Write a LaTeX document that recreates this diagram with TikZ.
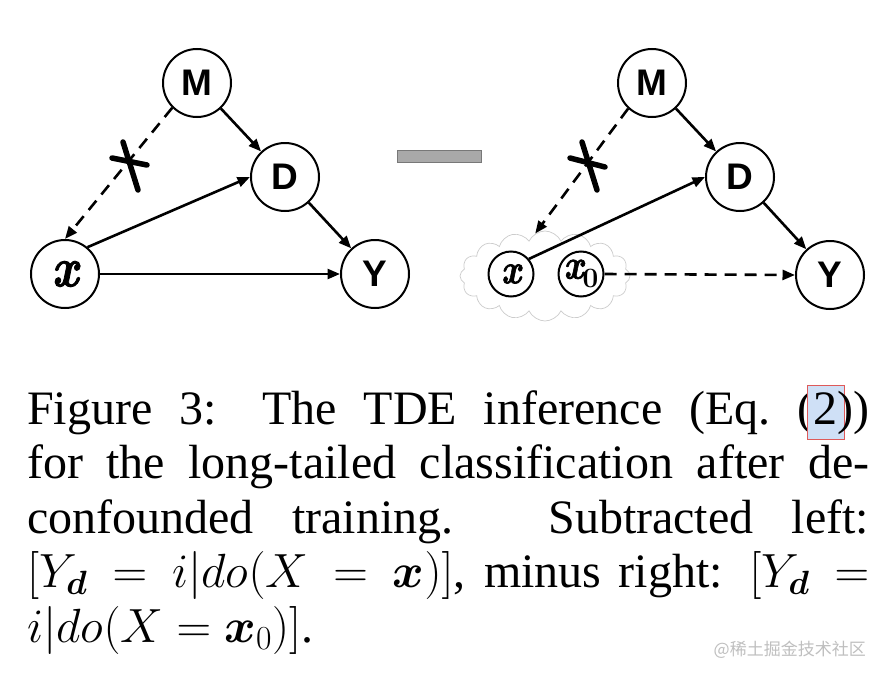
\RequirePackage{fix-cm}
\documentclass[tikz,border=0pt]{standalone}
\usepackage{amsmath,bm,graphicx}
\usepackage[no-math]{fontspec}
\setmainfont{Liberation Serif}
\newfontfamily\labfont{Liberation Sans}
\newfontfamily\lmfont{Latin Modern Roman}[BoldItalicFeatures={FakeBold=1.6}]
\newfontfamily\cjkfont{Noto Sans CJK SC}
\usetikzlibrary{arrows.meta,shapes.symbols}
\definecolor{hlblue}{RGB}{207,224,246}
\definecolor{hlred}{RGB}{222,90,90}
\definecolor{bargray}{RGB}{169,169,169}
\definecolor{baredge}{RGB}{120,120,120}
\newcommand\hlref[1]{\rlap{\hspace{-6pt}{\fboxsep=0pt\fboxrule=0.8pt\fcolorbox{hlred}{hlblue}{\rule[-15pt]{0pt}{53pt}\hspace{36pt}}}}#1}
\newcommand\bx{\scalebox{0.84}[1]{\lmfont\bfseries\itshape x}}
\begin{document}
\begin{tikzpicture}[x=1pt,y=-1pt,
 var/.style={circle,draw,line width=2pt,minimum size=68pt,inner sep=0pt,fill=white},
 svar/.style={circle,draw,line width=2pt,minimum size=45pt,inner sep=0pt,fill=white},
 lab/.style={font=\labfont\bfseries\fontsize{37}{37}\selectfont},
 xlab/.style={font=\fontsize{56}{56}\selectfont},
 sxlab/.style={font=\fontsize{42}{42}\selectfont},
 edge/.style={line width=2.6pt,-{Triangle[length=12.5pt,width=10pt]}},
 dashedge/.style={edge,dash pattern=on 12pt off 8pt},
 cross/.style={line width=5.5pt,line cap=round},
]
\useasboundingbox (0,0) rectangle (888,680);
\fill[white] (0,0) rectangle (888,680);

% left graph
\node[var,lab] (M1) at (197,83) {M};
\node[var,lab] (D1) at (285,177) {D};
\node[var,xlab] (X1) at (65,274) {\bx};
\node[var,lab] (Y1) at (375,274) {Y};
\draw[edge] (M1) -- (D1);
\draw[edge] (D1) -- (Y1);
\draw[edge] (X1.50) -- (D1.west);
\draw[edge] (X1.east) -- (Y1.west);
\draw[dashedge] (M1.225) -- (X1.north);
\draw[cross] (123,142) -- (138,190);
\draw[cross] (112,158) -- (147,165);

% minus bar
\node[draw=baredge,fill=bargray,line width=0.8pt,minimum width=84pt,minimum height=12pt,inner sep=0pt] (minus) at (439,156) {};

% right graph
\node[cloud,draw=gray!40,line width=0.7pt,cloud puffs=16,cloud puff arc=130,aspect=1.85,minimum width=170pt,minimum height=90pt,inner sep=0pt] (C) at (545,276) {};
\node[var,lab] (M2) at (652,83) {M};
\node[var,lab] (D2) at (740,177) {D};
\node[var,lab] (Y2) at (830,275) {Y};
\node[svar,sxlab] (X2) at (511,274) {\bx};
\node[svar,sxlab] (X0) at (581,274) {\bx\kern-1pt\raisebox{-0.22em}{\fontsize{28}{28}\selectfont\lmfont\bfseries 0}};
\draw[edge] (M2) -- (D2);
\draw[edge] (D2) -- (Y2);
\draw[edge] (X2.40) -- (D2.west);
\draw[dashedge] (X0.east) -- (Y2.west);
\draw[dashedge] (M2.227) -- (C.103);
\draw[cross] (582,142) -- (597,190);
\draw[cross] (570,158) -- (605,167);

% caption
\node[anchor=north west,inner sep=0pt,text width=842pt,align=justify,font=\fontsize{48}{54.5}\selectfont] (cap) at (27,384) {\spaceskip=0pt\xspaceskip=0pt%
\makebox[842pt][s]{\rule{0pt}{40pt}Figure 3: The TDE inference (Eq.\ (\hlref{2}))}\newline
\makebox[842pt][s]{for the long-tailed classification after de-}\newline
\makebox[842pt][s]{confounded training. Subtracted left:}\newline
\makebox[842pt][s]{$[Y_{\boldsymbol{d}}=i|do(X=\boldsymbol{x})]$, minus right: $[Y_{\boldsymbol{d}}=$}\newline
$i|do(X=\boldsymbol{x}_0)]$.};

\node[anchor=east,inner sep=0pt,text=gray!50,font=\cjkfont\fontsize{17}{17}\selectfont] (wm) at (866,650) {@稀土掘金技术社区};
\end{tikzpicture}
\end{document}
